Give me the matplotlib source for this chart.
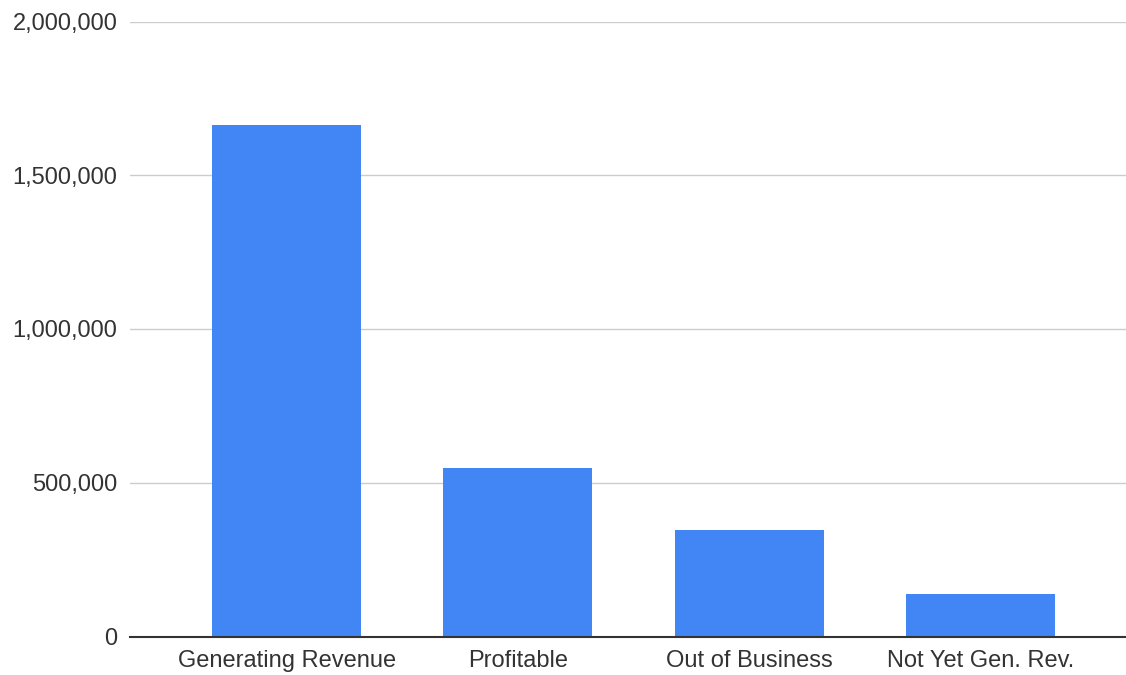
import matplotlib.pyplot as plt
from matplotlib.ticker import FuncFormatter

categories = ["Generating Revenue", "Profitable", "Out of Business", "Not Yet Gen. Rev."]
values = [1663000, 549000, 346000, 137000]
y_ticks = [0, 500000, 1000000, 1500000, 2000000]

BAR_COLOR = "#4285F4"
TEXT_COLOR = "#333333"

plt.rcParams["font.family"] = ["Liberation Sans", "DejaVu Sans"]

fig = plt.figure(figsize=(11.26, 6.75), dpi=100)
ax = fig.add_axes([130 / 1126, 38.5 / 675, 1 - 130 / 1126, 615 / 675])

x = list(range(len(categories)))
ax.bar(x, values, width=0.645, color=BAR_COLOR, zorder=3)

ax.set_ylim(0, 2000000)
ax.set_xlim(-0.677, 3.629)
ax.set_yticks(y_ticks)
ax.yaxis.set_major_formatter(FuncFormatter(lambda v, _: f"{int(v):,}"))
ax.set_xticks(x)
ax.set_xticklabels(categories)

ax.grid(axis="y", color="#cccccc", linewidth=1.0, zorder=0)
ax.axhline(0, color="#333333", linewidth=1.5, zorder=4, clip_on=False)

for side in ["top", "right", "left", "bottom"]:
  ax.spines[side].set_visible(False)

ax.tick_params(axis="y", length=0, pad=9, labelsize=17, labelcolor=TEXT_COLOR)
ax.tick_params(axis="x", length=0, pad=10, labelsize=17, labelcolor=TEXT_COLOR)

fig.savefig("out.png", dpi=100)
